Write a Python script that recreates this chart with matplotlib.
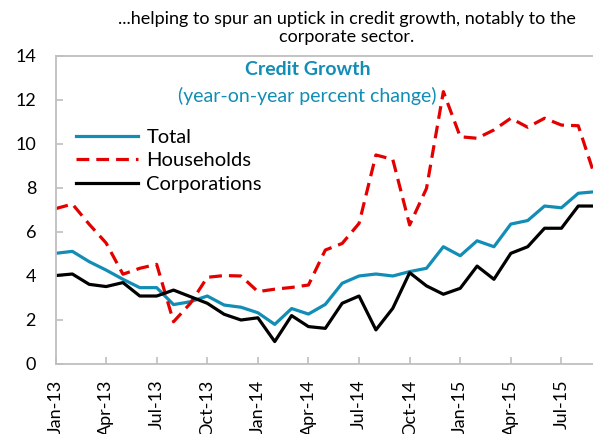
import matplotlib
matplotlib.use("Agg")
import matplotlib.pyplot as plt

# Data (monthly, Jan-13 .. Sep-15)
months = ["Jan-13", "Feb-13", "Mar-13", "Apr-13", "May-13", "Jun-13", "Jul-13", "Aug-13",
          "Sep-13", "Oct-13", "Nov-13", "Dec-13", "Jan-14", "Feb-14", "Mar-14", "Apr-14",
          "May-14", "Jun-14", "Jul-14", "Aug-14", "Sep-14", "Oct-14", "Nov-14", "Dec-14",
          "Jan-15", "Feb-15", "Mar-15", "Apr-15", "May-15", "Jun-15", "Jul-15", "Aug-15",
          "Sep-15"]
total = [5.03, 5.12, 4.65, 4.27, 3.85, 3.47, 3.47, 2.70, 2.83, 3.09, 2.68, 2.58, 2.33, 1.80,
         2.52, 2.27, 2.71, 3.67, 4.00, 4.09, 4.00, 4.20, 4.35, 5.33, 4.92, 5.60, 5.33, 6.36,
         6.52, 7.18, 7.10, 7.76, 7.83]
households = [7.06, 7.27, 6.35, 5.50, 4.08, 4.35, 4.53, 1.92, 2.76, 3.94, 4.02, 4.00, 3.29,
              3.40, 3.48, 3.59, 5.18, 5.48, 6.39, 9.50, 9.30, 6.32, 7.98, 12.38, 10.33, 10.26,
              10.64, 11.17, 10.76, 11.17, 10.86, 10.83, 8.50]
corporations = [4.02, 4.09, 3.62, 3.52, 3.70, 3.09, 3.09, 3.36, 3.06, 2.76, 2.26, 2.00, 2.10,
                1.02, 2.20, 1.70, 1.62, 2.76, 3.09, 1.55, 2.53, 4.15, 3.55, 3.17, 3.44, 4.45,
                3.85, 5.03, 5.33, 6.17, 6.17, 7.18, 7.18]

BLUE = "#118DB6"
RED = "#E50000"
GREY = "#BFBFBF"

plt.rcParams["font.family"] = ["Lato", "DejaVu Sans"]

fig = plt.figure(figsize=(5.93, 4.34), dpi=100)
ax = fig.add_axes([0.0936, 0.1613, 0.91, 0.7097])

x = list(range(len(months)))
ax.plot(x, total, color=BLUE, lw=2.3, label="Total")
ax.plot(x, households, color=RED, lw=2.3, ls=(0, (4, 2.2)), label="Households")
ax.plot(x, corporations, color="black", lw=2.3, label="Corporations")

ax.set_xlim(0, len(months) - 1)
ax.set_ylim(0, 14)
ax.set_yticks(range(0, 15, 2))
ax.set_xticks(x[::3])
ax.set_xticklabels(months[::3], rotation=90, va="top", ha="center")

for s in ax.spines.values():
    s.set_color(GREY)
    s.set_linewidth(1.3)
ax.spines["right"].set_visible(False)
ax.tick_params(axis="both", direction="in", color=GREY, width=1.2, length=5,
               labelsize=13, labelcolor="black")
ax.tick_params(axis="y", pad=14)
ax.tick_params(axis="x", pad=11)

ax.text(0.467, 0.955, "Credit Growth", transform=ax.transAxes, ha="center", va="center",
        color=BLUE, fontsize=14, fontweight="bold")
ax.text(0.467, 0.87, "(year-on-year percent change)", transform=ax.transAxes, ha="center",
        va="center", color=BLUE, fontsize=14)

ax.legend(loc="upper left", bbox_to_anchor=(0.038, 0.764), frameon=False, fontsize=14.5,
          handlelength=3.1, handletextpad=0.4, labelspacing=0.32, borderpad=0,
          borderaxespad=0)

fig.text(0.585, 0.975, "...helping to spur an uptick in credit growth, notably to the\ncorporate sector.",
         ha="center", va="top", fontsize=13, linespacing=1.2)

fig.savefig("out.png", dpi=100)
